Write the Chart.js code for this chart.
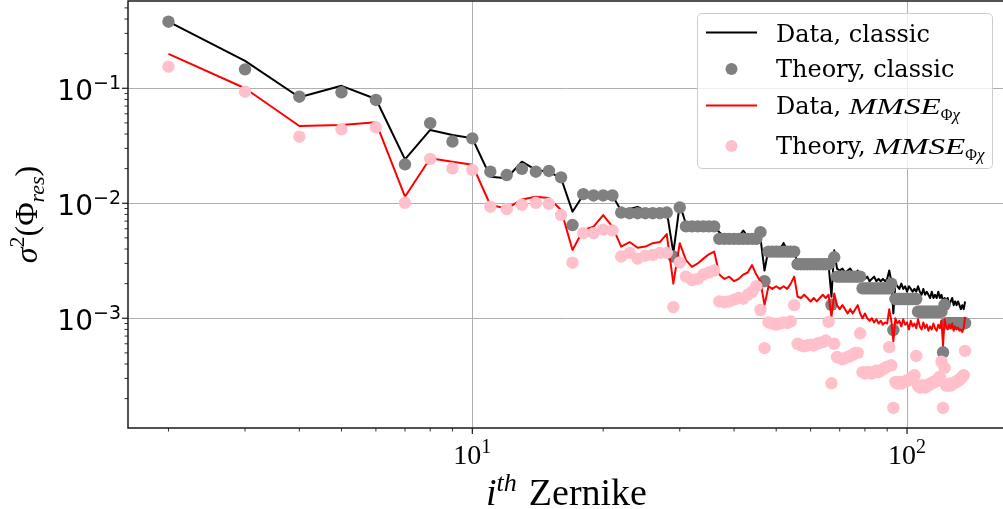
<!DOCTYPE html>
<html><head><meta charset="utf-8">
<script src="https://cdn.jsdelivr.net/npm/chart.js@4/dist/chart.umd.min.js"></script>
<style>
html,body{margin:0;padding:0;overflow:hidden;background:#fff;width:1003px;height:509px}
#wrap{position:absolute;left:0;top:0;width:1012px;height:509px}
canvas{display:block}
</style></head>
<body><div id="wrap"><canvas id="c" width="1012" height="509" style="width:1012px;height:509px"></canvas></div>
<script>
// Noll index of the Zernike mode
const modes = [
  2,3,
  4,5,6,
  7,8,9,10,
  11,12,13,14,15,
  16,17,18,19,20,21,
  22,23,24,25,26,27,28,
  29,30,31,32,33,34,35,36,
  37,38,39,40,41,42,43,44,45,
  46,47,48,49,50,51,52,53,54,55,
  56,57,58,59,60,61,62,63,64,65,66,
  67,68,69,70,71,72,73,74,75,76,77,78,
  79,80,81,82,83,84,85,86,87,88,89,90,91,
  92,93,94,95,96,97,98,99,100,101,102,103,104,105,
  106,107,108,109,110,111,112,113,114,115,116,117,118,119,120,
  121,122,123,124,125,126,127,128,129,130,131,132,133,134,135,136
];
const dataClassic = [
  0.38,0.173,
  0.0835,0.105,0.0807,
  0.0241,0.0434,0.0393,0.0367,
  0.0170,0.0165,0.0230,0.0195,0.0188,
  0.0165,0.00845,0.0118,0.0117,0.0116,0.0117,
  0.0086,0.0089,0.0093,0.0086,0.0085,0.0084,0.0086,
  0.0037,0.0098,0.0066,0.0065,0.0064,0.0066,0.0065,0.0063,
  0.0056,0.0051,0.0050,0.0052,0.0051,0.0058,0.0051,0.0053,0.0051,
  0.0050,0.0026,0.0040,0.0039,0.0041,0.0040,0.0045,0.0039,0.0040,0.0038,
  0.0030,0.0029,0.0030,0.0028,0.0029,0.0028,0.0030,0.0028,0.0029,0.0031,0.0029,
  0.00154,0.0039,0.0027,0.0026,0.0027,0.0025,0.0026,0.0027,0.0025,0.0024,0.0026,0.0023,
  0.0023,0.0022,0.0023,0.0021,0.0022,0.0023,0.0021,0.0022,0.0021,0.0022,0.0021,0.0022,0.0026,
  0.0021,0.0011,0.0020,0.0019,0.0018,0.0020,0.0018,0.0019,0.0017,0.0019,0.0018,0.0017,0.0018,0.0017,
  0.0019,0.0017,0.0016,0.0018,0.0016,0.0017,0.0016,0.0015,0.0017,0.0015,0.0016,0.0015,0.0017,0.0015,0.0016,
  0.0014,0.0015,0.0014,0.0015,0.0013,0.0014,0.0015,0.0013,0.0014,0.0013,0.0014,0.0013,0.0012,0.0013,0.0012,0.0014
];
const theoryClassic = [
  0.379,0.146,
  0.0845,0.0923,0.0791,
  0.0218,0.0497,0.0344,0.0367,
  0.0188,0.0176,0.0199,0.0188,0.0191,
  0.0168,0.00647,0.0120,0.0117,0.0117,0.0117,
  0.0083,0.0082,0.0082,0.0082,0.0082,0.0082,0.0083,
  0.00344,0.0092,0.0063,0.0063,0.0063,0.0063,0.0063,0.0063,
  0.0049,0.0049,0.0049,0.0049,0.0049,0.0049,0.0049,0.0049,0.0049,
  0.0056,0.0021,0.0038,0.0038,0.0038,0.0038,0.0038,0.0038,0.0038,0.0038,
  0.00295,0.00295,0.00295,0.00295,0.00295,0.00295,0.00295,0.00295,0.00295,0.00295,0.00295,
  0.00131,0.00339,0.0023,0.0023,0.0023,0.0023,0.0023,0.0023,0.0023,0.0023,0.0023,0.0023,
  0.00182,0.00182,0.00182,0.00182,0.00182,0.00182,0.00182,0.00182,0.00182,0.00182,0.00182,0.00182,0.00182,
  0.0020,0.00079,0.00147,0.00147,0.00147,0.00147,0.00147,0.00147,0.00147,0.00147,0.00147,0.00147,0.00147,0.00147,
  0.00114,0.00114,0.00114,0.00114,0.00114,0.00114,0.00114,0.00114,0.00114,0.00114,0.00114,0.00114,0.00114,0.00114,0.00114,
  0.000506,0.00131,0.000906,0.000906,0.000906,0.000906,0.000906,0.000906,0.000906,0.000906,0.000906,0.000906,0.000906,0.000906,0.000906,0.000906
];
const dataMMSE = [
  0.199,0.100,
  0.047,0.048,0.0506,
  0.0114,0.0246,0.0230,0.0216,
  0.00966,0.0090,0.0108,0.0114,0.0111,
  0.00875,0.00393,0.00586,0.00627,0.0079,0.00627,
  0.0042,0.0046,0.0041,0.0042,0.0045,0.0046,0.0054,
  0.0020,0.0045,0.0032,0.0028,0.0030,0.0033,0.0036,0.0038,
  0.0024,0.0022,0.0023,0.0021,0.0022,0.0024,0.0025,0.0029,0.0024,
  0.0021,0.0013,0.0019,0.0018,0.0019,0.0018,0.0019,0.0018,0.0020,0.0023,
  0.00154,0.0015,0.0016,0.0015,0.0014,0.0015,0.0014,0.0015,0.0016,0.0015,0.0016,
  0.00103,0.00164,0.0013,0.0012,0.0013,0.0012,0.0011,0.0012,0.0011,0.0012,0.0013,0.0011,
  0.0010,0.0011,0.0010,0.00095,0.0010,0.00092,0.00098,0.00090,0.00095,0.00088,0.00092,0.00090,0.0012,
  0.00095,0.00063,0.0010,0.00090,0.00095,0.00085,0.00098,0.00088,0.00092,0.00080,0.00095,0.00085,0.00090,0.00082,
  0.00098,0.00085,0.00080,0.00092,0.00082,0.00088,0.00078,0.00085,0.00080,0.00090,0.00082,0.00078,0.00088,0.00082,0.00095,
  0.00058,0.00098,0.00085,0.00080,0.00088,0.00082,0.00090,0.00078,0.00085,0.00080,0.00083,0.00078,0.00080,0.00076,0.00082,0.00103
];
const theoryMMSE = [
  0.154,0.0934,
  0.0379,0.0440,0.0458,
  0.0101,0.0243,0.0201,0.0195,
  0.00933,0.0089,0.0097,0.0101,0.0099,
  0.0079,0.00304,0.0055,0.0055,0.0059,0.0058,
  0.00344,0.0037,0.0033,0.0035,0.00356,0.0037,0.0037,
  0.00125,0.00306,0.0023,0.00215,0.0022,0.0024,0.0025,0.0026,
  0.0014,0.00138,0.0014,0.00145,0.0015,0.00148,0.0016,0.0017,0.0019,
  0.00118,0.00055,0.00092,0.00090,0.00088,0.00090,0.00092,0.00091,0.00094,0.0013,
  0.00060,0.00058,0.00057,0.00058,0.00059,0.00058,0.00060,0.00061,0.00062,0.00064,0.00093,
  0.000272,0.00060,0.00046,0.00045,0.00044,0.00045,0.00046,0.00047,0.00048,0.00050,0.00050,0.00074,
  0.00034,0.00033,0.00034,0.00034,0.00033,0.00034,0.00035,0.00034,0.00035,0.00036,0.00037,0.00038,0.00056,
  0.00039,0.000166,0.00028,0.00027,0.00028,0.00027,0.00028,0.00028,0.00029,0.00029,0.00030,0.00031,0.00032,0.00047,
  0.00026,0.00025,0.00026,0.00026,0.00025,0.00026,0.00026,0.00027,0.00027,0.00028,0.00028,0.00029,0.00030,0.00031,0.00042,
  0.000166,0.00037,0.00026,0.00026,0.00027,0.00026,0.00027,0.00027,0.00028,0.00028,0.00029,0.00029,0.00030,0.00031,0.00032,0.00052
];
const xMajorTicks = [10, 100];
const xTickExponents = ['1', '2'];
const xMinorTicks = [2,3,4,5,6,7,8,9,20,30,40,50,60,70,80,90];
const yMajorTicks = [1e-1, 1e-2, 1e-3];
const yTickExponents = ['\u22121', '\u22122', '\u22123'];
const yMinorTicks = [2e-4,3e-4,4e-4,5e-4,6e-4,7e-4,8e-4,9e-4,2e-3,3e-3,4e-3,5e-3,6e-3,7e-3,8e-3,9e-3,2e-2,3e-2,4e-2,5e-2,6e-2,7e-2,8e-2,9e-2,2e-1,3e-1,4e-1,5e-1];
const seriesLabels = ['Data, classic', 'Theory, classic', 'Data, ', 'Theory, '];

const SERIF = '"DejaVu Serif"';
const CM = '"Liberation Serif"';
const SANS = '"DejaVu Sans"';

function pts(vals){ return modes.map((m,k)=>({x:m, y:vals[k]})); }

function richWidth(ctx, parts){
  let w=0; parts.forEach(p=>{ctx.font=p.f; w+=ctx.measureText(p.t).width*(p.sx||1)+(p.gap||0);}); return w;
}
function drawRich(ctx, parts, x, y){
  let cx=x;
  parts.forEach(p=>{
    ctx.font=p.f;
    const sx=p.sx||1;
    ctx.save(); ctx.translate(cx, y+(p.dy||0)); ctx.scale(sx,1); ctx.fillText(p.t,0,0); ctx.restore();
    cx+=ctx.measureText(p.t).width*sx+(p.gap||0);
  });
}

const mplPlugin = {
  id:'mpl',
  beforeDatasetsDraw(chart){
    const {ctx, chartArea:a, scales:{x,y}} = chart;
    ctx.save();
    ctx.strokeStyle='#b0b0b0'; ctx.lineWidth=1;
    xMajorTicks.forEach(v=>{const p=Math.round(x.getPixelForValue(v))+0.5; ctx.beginPath(); ctx.moveTo(p,a.top); ctx.lineTo(p,a.bottom); ctx.stroke();});
    yMajorTicks.forEach(v=>{const p=Math.round(y.getPixelForValue(v))+0.5; ctx.beginPath(); ctx.moveTo(a.left,p); ctx.lineTo(a.right,p); ctx.stroke();});
    ctx.restore();
  },
  afterDatasetsDraw(chart){
    const {ctx, chartArea:a, scales:{x,y}} = chart;
    ctx.save();
    // spines
    ctx.strokeStyle='#1a1a1a'; ctx.lineWidth=1.5;
    ctx.beginPath(); ctx.moveTo(a.left,a.top); ctx.lineTo(a.right,a.top); ctx.lineTo(a.right,a.bottom); ctx.lineTo(a.left,a.bottom); ctx.closePath(); ctx.stroke();
    // x ticks
    ctx.lineWidth=1.2;
    xMajorTicks.forEach(v=>{const p=x.getPixelForValue(v); ctx.beginPath(); ctx.moveTo(p,a.bottom); ctx.lineTo(p,a.bottom+6); ctx.stroke();});
    ctx.lineWidth=0.9;
    xMinorTicks.forEach(v=>{const p=x.getPixelForValue(v); ctx.beginPath(); ctx.moveTo(p,a.bottom); ctx.lineTo(p,a.bottom+3.5); ctx.stroke();});
    // y ticks
    ctx.lineWidth=1.2;
    yMajorTicks.forEach(v=>{const p=y.getPixelForValue(v); ctx.beginPath(); ctx.moveTo(a.left,p); ctx.lineTo(a.left-6,p); ctx.stroke();});
    ctx.lineWidth=0.9;
    yMinorTicks.forEach(v=>{const p=y.getPixelForValue(v); ctx.beginPath(); ctx.moveTo(a.left,p); ctx.lineTo(a.left-3.5,p); ctx.stroke();});
    // tick labels
    ctx.fillStyle='#000'; ctx.textBaseline='alphabetic'; ctx.textAlign='left';
    xMajorTicks.forEach((v,k)=>{
      const parts=[{t:'10',f:`28px ${CM}`},{t:xTickExponents[k],f:`20px ${CM}`,dy:-11}];
      const w=richWidth(ctx,parts); const p=x.getPixelForValue(v);
      drawRich(ctx,parts,p-w/2,464);
    });
    yMajorTicks.forEach((v,k)=>{
      const parts=[{t:'10',f:`28px ${SANS}`},{t:yTickExponents[k],f:`19px ${SANS}`,dy:-11}];
      const w=richWidth(ctx,parts); const p=y.getPixelForValue(v);
      drawRich(ctx,parts,121-w,p+12);
    });
    // x axis title
    {
      const parts=[{t:'i',f:`italic 38px ${CM}`},{t:'th',f:`italic 26px ${CM}`,dy:-14,gap:12},{t:'Zernike',f:`38px ${CM}`}];
      const w=richWidth(ctx,parts);
      drawRich(ctx,parts,(a.left+a.right)/2-w/2,505);
    }
    // y axis title
    {
      const parts=[{t:'\u03C3',f:`italic 32px ${CM}`},{t:'2',f:`22px ${CM}`,dy:-13},{t:'(',f:`32px ${CM}`},{t:'\u03A6',f:`32px ${CM}`},{t:'res',f:`italic 22px ${CM}`,dy:7},{t:')',f:`32px ${CM}`}];
      const w=richWidth(ctx,parts);
      ctx.save(); ctx.translate(37,(a.top+a.bottom)/2); ctx.rotate(-Math.PI/2);
      drawRich(ctx,parts,-w/2,0);
      ctx.restore();
    }
    // legend
    {
      const bx=697.5, by=13.5, bw=295, bh=155, r=5;
      ctx.beginPath();
      ctx.moveTo(bx+r,by); ctx.lineTo(bx+bw-r,by); ctx.quadraticCurveTo(bx+bw,by,bx+bw,by+r);
      ctx.lineTo(bx+bw,by+bh-r); ctx.quadraticCurveTo(bx+bw,by+bh,bx+bw-r,by+bh);
      ctx.lineTo(bx+r,by+bh); ctx.quadraticCurveTo(bx,by+bh,bx,by+bh-r);
      ctx.lineTo(bx,by+r); ctx.quadraticCurveTo(bx,by,bx+r,by); ctx.closePath();
      ctx.fillStyle='rgba(255,255,255,0.8)'; ctx.fill();
      ctx.strokeStyle='#cccccc'; ctx.lineWidth=1; ctx.stroke();
      const ds=chart.data.datasets;
      const hx1=706, hx2=757, tx=776;
      ctx.strokeStyle=ds[3].borderColor; ctx.lineWidth=2;
      ctx.beginPath(); ctx.moveTo(hx1,32.5); ctx.lineTo(hx2,32.5); ctx.stroke();
      ctx.fillStyle=ds[2].pointBackgroundColor; ctx.beginPath(); ctx.arc(731.5,69,6,0,2*Math.PI); ctx.fill();
      ctx.strokeStyle=ds[1].borderColor; ctx.lineWidth=2;
      ctx.beginPath(); ctx.moveTo(hx1,105.5); ctx.lineTo(hx2,105.5); ctx.stroke();
      ctx.fillStyle=ds[0].pointBackgroundColor; ctx.beginPath(); ctx.arc(731.5,146,6,0,2*Math.PI); ctx.fill();
      ctx.fillStyle='#000';
      ctx.font=`24px ${SERIF}`;
      ctx.fillText(seriesLabels[0],tx,41.5);
      ctx.fillText(seriesLabels[1],tx,76.5);
      const mm=(lab)=>[{t:lab,f:`24px ${SERIF}`},{t:'MMSE',f:`italic 24px ${CM}`,sx:1.38},{t:'\u03A6',f:`16px ${CM}`,dy:6},{t:'\u03C7',f:`italic 17px ${CM}`,dy:6}];
      drawRich(ctx,mm(seriesLabels[2]),tx,113.5);
      drawRich(ctx,mm(seriesLabels[3]),tx,153.5);
    }
    ctx.restore();
  }
};

new Chart(document.getElementById('c'), {
  type:'line',
  data:{ datasets:[
    {label:'Theory, MMSE', data:pts(theoryMMSE), showLine:false, pointRadius:6.2, pointHoverRadius:6.2, pointBackgroundColor:'#FFC0CB', pointBorderWidth:0, borderColor:'#FFC0CB', order:0},
    {label:'Data, MMSE', data:pts(dataMMSE), showLine:true, pointRadius:0, borderColor:'#FF0000', borderWidth:2, tension:0, fill:false, borderJoinStyle:'round', order:1},
    {label:'Theory, classic', data:pts(theoryClassic), showLine:false, pointRadius:6.2, pointHoverRadius:6.2, pointBackgroundColor:'#808080', pointBorderWidth:0, borderColor:'#808080', order:2},
    {label:'Data, classic', data:pts(dataClassic), showLine:true, pointRadius:0, borderColor:'#000000', borderWidth:2, tension:0, fill:false, borderJoinStyle:'round', order:3}
  ]},
  options:{
    responsive:false, animation:false, devicePixelRatio:1,
    layout:{autoPadding:false, padding:{left:128, top:1, right:7, bottom:81}},
    plugins:{legend:{display:false}, tooltip:{enabled:false}},
    events:[],
    scales:{
      x:{type:'logarithmic', display:false, min:1.614, max:168.0, bounds:'data'},
      y:{type:'logarithmic', display:false, min:1.111e-4, max:0.574, bounds:'data'}
    }
  },
  plugins:[mplPlugin]
});
</script>
</body></html>
